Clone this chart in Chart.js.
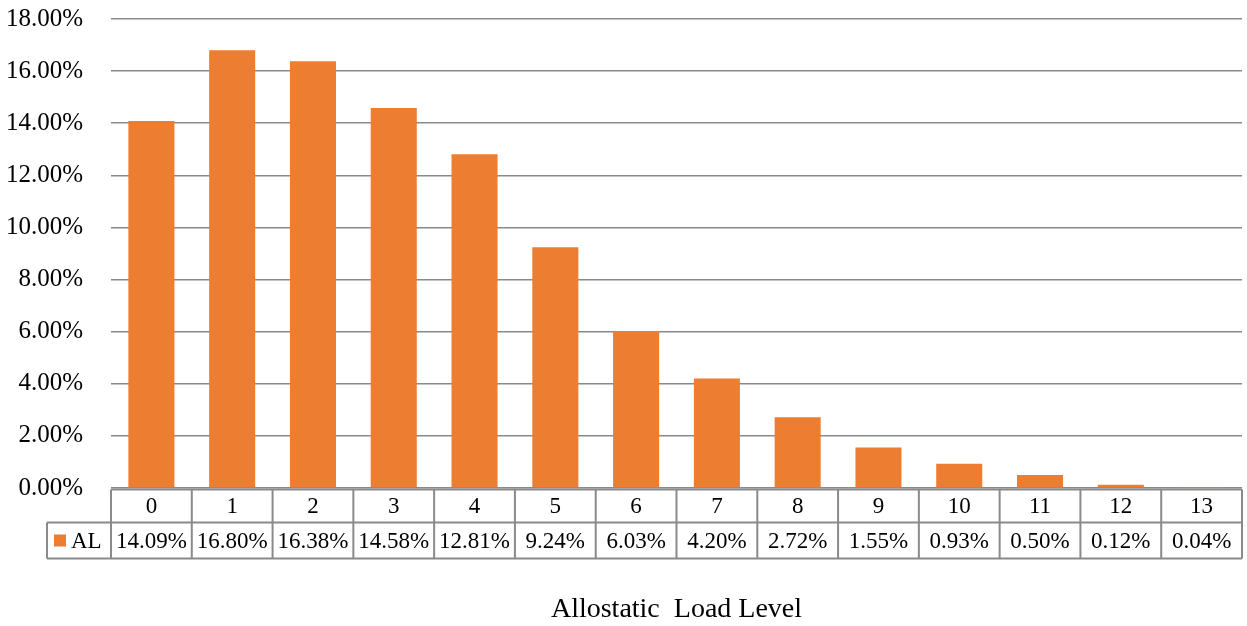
<!DOCTYPE html>
<html>
<head>
<meta charset="utf-8">
<script src="https://cdn.jsdelivr.net/npm/chart.js@4.4.1/dist/chart.umd.min.js"></script>
<style>
  html, body { margin: 0; padding: 0; background: #ffffff; }
  #wrap { width: 1247px; height: 626px; position: relative; }
</style>
</head>
<body>
<div id="wrap"><canvas id="c" width="1247" height="626"></canvas></div>
<script>
// Allostatic load level distribution
const levels = ['0','1','2','3','4','5','6','7','8','9','10','11','12','13'];
const alShare = [14.09, 16.80, 16.38, 14.58, 12.81, 9.24, 6.03, 4.20, 2.72, 1.55, 0.93, 0.50, 0.12, 0.04];
const seriesName = 'AL';
const axisTitle = 'Allostatic  Load Level';
const yMax = 18;
const yStep = 2;

const FONT = '"Liberation Serif", "Times New Roman", serif';
const ORANGE = '#ED7D31';
const GRID = '#8a8a8a';

// Data table drawn under the plot, aligned to the category scale
const dataTablePlugin = {
  id: 'dataTable',
  afterDraw(chart) {
    const ctx = chart.ctx;
    const xs = chart.scales.x;
    const area = chart.chartArea;
    const left = area.left, right = area.right;
    const top = area.bottom + 1.5;
    const mid = top + 33;
    const bottom = mid + 36;
    const legendLeft = 47;
    const n = levels.length;
    const step = (right - left) / n;

    ctx.save();
    ctx.strokeStyle = GRID;
    ctx.lineWidth = 2;
    ctx.beginPath();
    // horizontal rules
    ctx.moveTo(left, top); ctx.lineTo(right, top);
    ctx.moveTo(legendLeft, mid); ctx.lineTo(right, mid);
    ctx.moveTo(legendLeft, bottom); ctx.lineTo(right, bottom);
    // vertical rules
    ctx.moveTo(legendLeft, mid); ctx.lineTo(legendLeft, bottom);
    for (let i = 0; i <= n; i++) {
      const x = i === n ? right : xs.getPixelForValue(i) - step / 2;
      ctx.moveTo(x, top); ctx.lineTo(x, bottom);
    }
    ctx.stroke();

    ctx.fillStyle = '#000';
    ctx.font = '23px ' + FONT;
    ctx.textAlign = 'center';
    ctx.textBaseline = 'middle';
    levels.forEach((lab, i) => {
      const x = xs.getPixelForValue(i);
      ctx.fillText(lab, x, (top + mid) / 2 + 1);
      ctx.fillText(alShare[i].toFixed(2) + '%', x, (mid + bottom) / 2 + 1);
    });

    // legend key in the row header
    ctx.fillStyle = ORANGE;
    ctx.fillRect(54, mid + 12, 12, 12);
    ctx.fillStyle = '#000';
    ctx.textAlign = 'left';
    ctx.fillText(seriesName, 71, (mid + bottom) / 2 + 1);

    // axis title
    ctx.font = '28px ' + FONT;
    ctx.textAlign = 'center';
    ctx.fillText(axisTitle, (left + right) / 2, 610);
    ctx.restore();
  }
};

new Chart(document.getElementById('c'), {
  type: 'bar',
  data: {
    labels: levels,
    datasets: [{
      label: seriesName,
      data: alShare,
      backgroundColor: ORANGE,
      borderWidth: 0,
      categoryPercentage: 1,
      barPercentage: 0.57
    }]
  },
  options: {
    responsive: false,
    animation: false,
    devicePixelRatio: 1,
    layout: { padding: { left: 0, right: 5, top: 19, bottom: 138 } },
    plugins: { legend: { display: false }, tooltip: { enabled: false }, title: { display: false } },
    scales: {
      x: { display: false },
      y: {
        min: 0, max: yMax,
        afterFit(scale) {
          scale.width = 111;
          scale.paddingTop = 0;
          scale.paddingBottom = 0;
        },
        ticks: {
          stepSize: yStep,
          padding: 28,
          color: '#000',
          font: { family: FONT, size: 25 },
          callback: v => v.toFixed(2) + '%'
        },
        grid: { color: GRID, lineWidth: 1.5, drawTicks: false },
        border: { display: false }
      }
    }
  },
  plugins: [dataTablePlugin]
});
</script>
</body>
</html>
